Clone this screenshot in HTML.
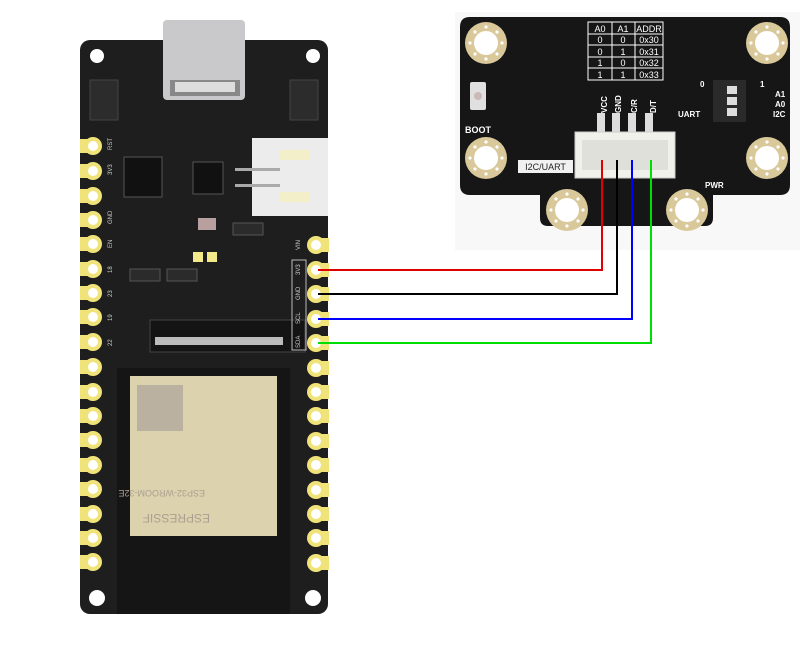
<!DOCTYPE html>
<html><head><style>
html,body{margin:0;padding:0;background:#fff;width:800px;height:645px;overflow:hidden;font-family:"Liberation Sans",sans-serif}
</style></head><body>
<svg width="800" height="645" viewBox="0 0 800 645" xmlns="http://www.w3.org/2000/svg" font-family="Liberation Sans, sans-serif">
<defs>
<g id="pinL"><rect x="-13" y="-7" width="10" height="14" fill="#f0e37a"/><circle r="9" fill="#f0e37a"/><circle r="5" fill="#fff"/></g>
<g id="hole"><circle r="21" fill="#d8c89a"/><circle r="12" fill="#fff"/><circle cx="0" cy="-16" r="1.6" fill="#fff"/><circle cx="0" cy="16" r="1.6" fill="#fff"/><circle cx="-16" cy="0" r="1.6" fill="#fff"/><circle cx="16" cy="0" r="1.6" fill="#fff"/><circle cx="11" cy="11" r="1.6" fill="#fff"/><circle cx="-11" cy="11" r="1.6" fill="#fff"/><circle cx="11" cy="-11" r="1.6" fill="#fff"/><circle cx="-11" cy="-11" r="1.6" fill="#fff"/></g>
</defs>
<!-- ESP32 board -->
<rect x="80" y="40" width="248" height="574" rx="10" fill="#1e1e1e"/>
<circle cx="97" cy="56" r="7" fill="#fff"/><circle cx="313" cy="56" r="7" fill="#fff"/>
<circle cx="97" cy="598" r="8" fill="#fff"/><circle cx="313" cy="598" r="8" fill="#fff"/>
<!-- usb -->
<rect x="163" y="20" width="82" height="80" rx="4" fill="#c9c9cc"/>
<rect x="170" y="80" width="70" height="16" fill="#888"/>
<rect x="175" y="82" width="60" height="10" fill="#ddd"/>
<!-- buttons -->
<rect x="90" y="80" width="28" height="40" fill="#2c2c2c" stroke="#444"/>
<rect x="290" y="80" width="28" height="40" fill="#2c2c2c" stroke="#444"/>
<!-- chips -->
<rect x="124" y="157" width="38" height="40" fill="#111" stroke="#555"/>
<rect x="193" y="162" width="30" height="32" fill="#111" stroke="#555"/>
<!-- battery connector -->
<rect x="252" y="138" width="76" height="78" fill="#ececec"/>
<rect x="280" y="150" width="30" height="10" fill="#f3efc8"/><rect x="280" y="192" width="30" height="10" fill="#f3efc8"/>
<rect x="235" y="168" width="45" height="3" fill="#aaa"/><rect x="235" y="184" width="45" height="3" fill="#aaa"/>
<!-- small parts -->
<rect x="198" y="218" width="18" height="12" fill="#b9a0a0"/>
<rect x="233" y="223" width="30" height="12" fill="#2b2b2b" stroke="#555"/>
<rect x="193" y="252" width="10" height="10" fill="#f3e98a"/><rect x="207" y="252" width="10" height="10" fill="#f3e98a"/>
<rect x="130" y="269" width="30" height="12" fill="#2b2b2b" stroke="#555"/>
<rect x="167" y="269" width="30" height="12" fill="#2b2b2b" stroke="#555"/>
<rect x="150" y="320" width="155" height="32" fill="#141414" stroke="#444"/>
<rect x="155" y="337" width="128" height="8" fill="#bbb"/>
<rect x="292" y="260" width="14" height="90" fill="none" stroke="#bbb" stroke-width="1"/>
<!-- module -->
<rect x="117" y="368" width="173" height="246" fill="#151515"/>
<rect x="130" y="376" width="147" height="160" fill="#ddd2ae"/>
<rect x="137" y="385" width="46" height="46" fill="#bbb1a0"/>
<text x="210" y="522" font-size="12" fill="#aaa090" transform="rotate(180 210 518)">ESPRESSIF</text>
<text x="205" y="496" font-size="9" fill="#aaa090" transform="rotate(180 205 493)">ESP32-WROOM-32E</text>
<g fill="#ccc" font-size="6" transform="rotate(-90)">
<text x="-150" y="112">RST</text><text x="-175" y="112">3V3</text><text x="-224" y="112">GND</text><text x="-248" y="112">EN</text><text x="-273" y="112">18</text><text x="-297" y="112">23</text><text x="-321" y="112">19</text><text x="-346" y="112">22</text>
<text x="-250" y="300">VIN</text><text x="-275" y="300">3V3</text><text x="-300" y="300">GND</text><text x="-324" y="300">SCL</text><text x="-348" y="300">SDA</text>
</g>
<!-- left pins -->
<g transform="translate(93,0)">
<use href="#pinL" y="146"/><use href="#pinL" y="171"/><use href="#pinL" y="196"/><use href="#pinL" y="220"/><use href="#pinL" y="244"/><use href="#pinL" y="269"/><use href="#pinL" y="293"/><use href="#pinL" y="317"/><use href="#pinL" y="342"/><use href="#pinL" y="367"/><use href="#pinL" y="392"/><use href="#pinL" y="416"/><use href="#pinL" y="440"/><use href="#pinL" y="465"/><use href="#pinL" y="489"/><use href="#pinL" y="514"/><use href="#pinL" y="538"/><use href="#pinL" y="562"/>
</g>
<g transform="translate(316,0) scale(-1,1)">
<use href="#pinL" y="245"/><use href="#pinL" y="270"/><use href="#pinL" y="294"/><use href="#pinL" y="319"/><use href="#pinL" y="343"/><use href="#pinL" y="368"/><use href="#pinL" y="392"/><use href="#pinL" y="416"/><use href="#pinL" y="441"/><use href="#pinL" y="465"/><use href="#pinL" y="490"/><use href="#pinL" y="514"/><use href="#pinL" y="538"/><use href="#pinL" y="563"/>
</g>
<!-- sensor board -->
<rect x="455" y="12" width="345" height="238" fill="#f8f8f8"/>
<path d="M470 17 H780 Q790 17 790 27 V185 Q790 195 780 195 H713 V218 Q713 226 705 226 H548 Q540 226 540 218 V195 H470 Q460 195 460 185 V27 Q460 17 470 17 Z" fill="#161616"/>
<use href="#hole" x="486" y="43"/><use href="#hole" x="767" y="43"/><use href="#hole" x="486" y="158"/><use href="#hole" x="767" y="158"/><use href="#hole" x="567" y="210"/><use href="#hole" x="687" y="210"/>
<g stroke="#fff" stroke-width="1" fill="none"><rect x="588" y="22" width="75" height="58"/>
<line x1="612" y1="22" x2="612" y2="80"/><line x1="635" y1="22" x2="635" y2="80"/>
<line x1="588" y1="34" x2="663" y2="34"/><line x1="588" y1="45" x2="663" y2="45"/><line x1="588" y1="57" x2="663" y2="57"/><line x1="588" y1="68" x2="663" y2="68"/></g>
<g fill="#fff" font-size="9" text-anchor="middle">
<text x="600" y="32">A0</text><text x="623" y="32">A1</text><text x="649" y="32">ADDR</text>
<text x="600" y="43">0</text><text x="623" y="43">0</text><text x="649" y="43">0x30</text>
<text x="600" y="55">0</text><text x="623" y="55">1</text><text x="649" y="55">0x31</text>
<text x="600" y="66">1</text><text x="623" y="66">0</text><text x="649" y="66">0x32</text>
<text x="600" y="78">1</text><text x="623" y="78">1</text><text x="649" y="78">0x33</text>
</g>
<rect x="470" y="82" width="16" height="28" rx="2" fill="#e0e0e0"/><circle cx="478" cy="96" r="4" fill="#c9b9b9"/>
<text x="465" y="133" fill="#fff" font-size="9" font-weight="bold">BOOT</text>
<g fill="#fff" font-size="8" font-weight="bold" transform="rotate(-90)">
<text x="-113" y="607">VCC</text><text x="-113" y="621">GND</text><text x="-113" y="637">C/R</text><text x="-113" y="656">D/T</text></g>
<rect x="597" y="113" width="8" height="20" fill="#ddd"/><rect x="612" y="113" width="8" height="20" fill="#ddd"/><rect x="628" y="113" width="8" height="20" fill="#ddd"/><rect x="645" y="113" width="8" height="20" fill="#ddd"/>
<rect x="575" y="132" width="100" height="46" fill="#f1f1ec" stroke="#ccc"/>
<rect x="582" y="140" width="86" height="30" fill="#e0e0da"/>
<rect x="518" y="160" width="55" height="13" fill="#f1f1f1"/>
<text x="545.5" y="170" text-anchor="middle" font-size="9" fill="#222">I2C/UART</text>
<rect x="713" y="80" width="33" height="42" fill="#2a2a2a"/>
<rect x="727" y="86" width="10" height="8" fill="#ddd"/><rect x="727" y="97" width="10" height="8" fill="#ddd"/><rect x="727" y="108" width="10" height="8" fill="#ddd"/>
<g fill="#fff" font-size="8" font-weight="bold"><text x="700" y="87">0</text><text x="760" y="87">1</text><text x="775" y="97">A1</text><text x="775" y="107">A0</text><text x="773" y="117">I2C</text><text x="678" y="117">UART</text><text x="705" y="188">PWR</text></g>
<!-- wires -->
<g fill="none" stroke-width="2">
<polyline points="318,270 602,270 602,160" stroke="#e00000"/>
<polyline points="318,294 617,294 617,160" stroke="#000"/>
<polyline points="318,319 632,319 632,160" stroke="#0000ff"/>
<polyline points="318,343 651,343 651,160" stroke="#00dd00"/>
</g>
</svg>
</body></html>
